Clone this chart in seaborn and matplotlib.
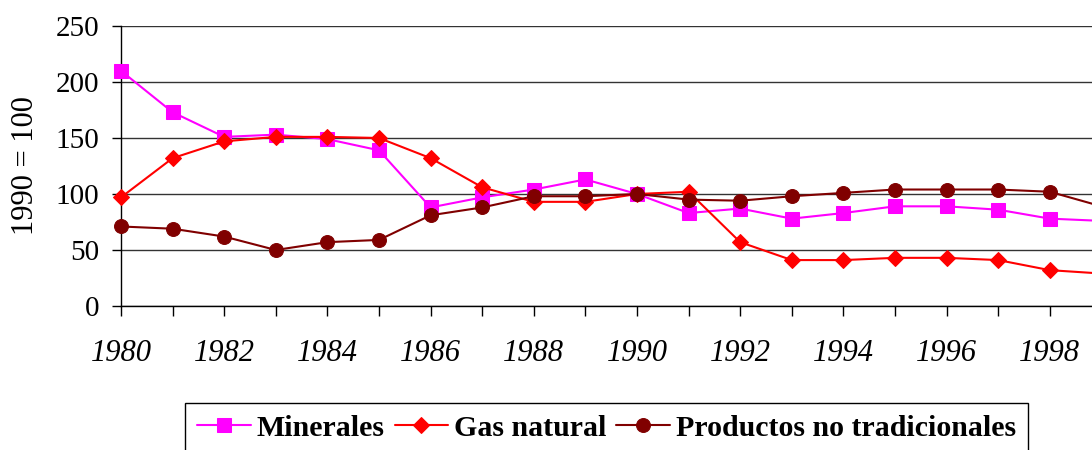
import pandas as pd
import matplotlib
matplotlib.use("Agg")
import matplotlib.pyplot as plt
import seaborn as sns

# Data (index 1990 = 100)
years = list(range(1980, 2000))
minerales = [210, 173, 151, 153, 149, 139, 88, 97, 104, 113, 100, 83, 87, 78, 83, 89, 89, 86, 78, 76]
gas_natural = [97, 132, 147, 151, 151, 150, 132, 106, 93, 93, 100, 102, 57, 41, 41, 43, 43, 41, 32, 29]
productos = [71, 69, 62, 50, 57, 59, 81, 88, 98, 98, 100, 95, 94, 98, 101, 104, 104, 104, 102, 89]
series_names = ["Minerales", "Gas natural", "Productos no tradicionales"]
xtick_labels = [str(y) if y % 2 == 0 else "" for y in years]

df = pd.DataFrame({
    "year": years * 3,
    "value": minerales + gas_natural + productos,
    "serie": [series_names[0]] * len(years) + [series_names[1]] * len(years)
             + [series_names[2]] * len(years),
})

palette = {"Minerales": "#FF00FF", "Gas natural": "#FF0000",
           "Productos no tradicionales": "#800000"}
markers = {"Minerales": "s", "Gas natural": "D", "Productos no tradicionales": "o"}
msizes = {"Minerales": 10, "Gas natural": 8.5, "Productos no tradicionales": 10}

sns.set_style("white")
plt.rcParams["font.family"] = ["Liberation Serif", "DejaVu Serif"]
plt.rcParams["text.color"] = "black"
plt.rcParams["axes.labelcolor"] = "black"
plt.rcParams["xtick.color"] = "black"
plt.rcParams["ytick.color"] = "black"

fig = plt.figure(figsize=(10.92, 4.5), dpi=100)
ax = fig.add_axes([121 / 1092, 1 - 306 / 450, 980.4 / 1092, 280 / 450])

sns.lineplot(data=df, x="year", y="value", hue="serie", style="serie",
             hue_order=series_names, style_order=series_names,
             palette=palette, markers=markers, dashes=False,
             linewidth=1.5, ax=ax, legend=False)

for line, name in zip(ax.lines, series_names):
    line.set_markeredgecolor(palette[name])
    line.set_markersize(msizes[name])
    line.set_clip_on(False)
    line.set_zorder(3)

ax.set_xlim(1980, 1999)
ax.set_ylim(0, 250)
ax.set_yticks(range(0, 251, 50))
ax.set_xticks(years)
ax.set_xticklabels(xtick_labels, fontstyle="italic", fontsize=22)
ax.tick_params(axis="y", labelsize=21, length=6.5, width=1, color="black",
               labelcolor="black", direction="out", left=True, pad=9)
ax.tick_params(axis="x", length=7, width=1, color="black", labelcolor="black",
               direction="out", bottom=True, pad=17)

ax.grid(axis="y", color="#333333", linewidth=1)
ax.grid(axis="x", visible=False)
ax.set_axisbelow(True)
for side in ["top", "right"]:
    ax.spines[side].set_visible(False)
for side in ["left", "bottom"]:
    ax.spines[side].set_color("black")
    ax.spines[side].set_linewidth(1)

ax.set_xlabel("")
ax.set_ylabel("1990 = 100", fontsize=22, color="black")
ax.yaxis.set_label_coords(-0.083, 0.5)

leg = fig.legend(ax.lines, series_names, loc="upper left",
                 bbox_to_anchor=(185 / 1092, 1 - 403 / 450), ncol=3,
                 frameon=True, fancybox=False, shadow=False,
                 prop={"weight": "bold", "size": 21.5},
                 handlelength=1.8, handletextpad=0.2, columnspacing=0.33,
                 borderpad=0.4, borderaxespad=0, labelcolor="black")
leg.get_frame().set_edgecolor("black")
leg.get_frame().set_linewidth(1)
leg.get_frame().set_alpha(1)

fig.savefig("out.png", dpi=100)
